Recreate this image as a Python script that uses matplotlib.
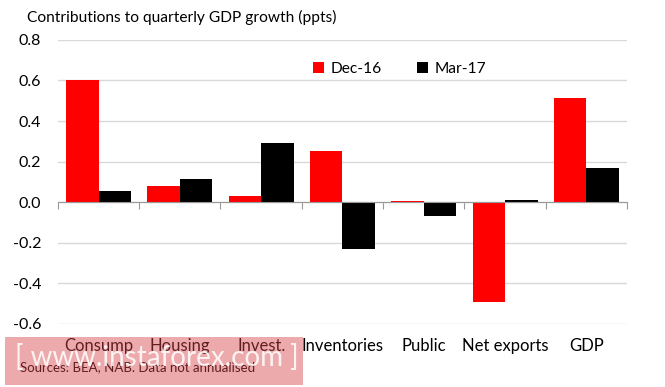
import numpy as np
import matplotlib
matplotlib.use("Agg")
import matplotlib.pyplot as plt
from matplotlib.patches import Rectangle

plt.rcParams['font.family'] = ['Lato', 'DejaVu Sans']

# data
categories = ['Consump', 'Housing', 'Invest.', 'Inventories', 'Public', 'Net exports', 'GDP']
dec16 = [0.60, 0.08, 0.03, 0.25, 0.005, -0.49, 0.515]
mar17 = [0.055, 0.115, 0.29, -0.23, -0.07, 0.01, 0.17]
series_names = ['Dec-16', 'Mar-17']
yticks = [-0.6, -0.4, -0.2, 0.0, 0.2, 0.4, 0.6, 0.8]

fig = plt.figure(figsize=(6.65, 3.87), dpi=100)
ax = fig.add_axes([0.087, 0.163, 0.856, 0.734])

x = np.arange(len(categories))
w = 0.4
ax.bar(x - w / 2, dec16, w, color='#ff0000', label=series_names[0], zorder=3)
ax.bar(x + w / 2, mar17, w, color='#000000', label=series_names[1], zorder=3)

ax.set_xlim(-0.5, len(categories) - 0.5)
ax.set_ylim(-0.6, 0.8)
ax.set_yticks(yticks)
ax.set_yticklabels([f'{v:.1f}' for v in yticks], fontsize=11.5)
ax.yaxis.grid(True, color='#d9d9d9', linewidth=1, zorder=0)
ax.tick_params(axis='y', length=0, pad=12)

for s in ['top', 'right', 'left']:
    ax.spines[s].set_visible(False)
ax.spines['bottom'].set_position(('data', 0))
ax.spines['bottom'].set_color('#999999')
ax.spines['bottom'].set_zorder(4)

# tick marks between categories, labels below the plot
ax.set_xticks(np.arange(len(categories) + 1) - 0.5)
ax.set_xticklabels([])
ax.tick_params(axis='x', length=5, color='#999999', direction='out')
for i, c in enumerate(categories):
    ax.text(i, -0.05, c, transform=ax.get_xaxis_transform(), ha='center', va='top',
            fontsize=12)

ax.legend(loc='upper center', bbox_to_anchor=(0.6, 0.97), ncol=2, frameon=False,
          fontsize=11.2, handlelength=0.7, handleheight=0.7, columnspacing=2.3,
          handletextpad=0.4)

fig.text(0.04, 0.955, 'Contributions to quarterly GDP growth (ppts)', fontsize=11.2,
         ha='left', va='center')
fig.text(0.03, 0.05, 'Sources: BEA, NAB. Data not annualised', fontsize=9.5,
         ha='left', va='center')

# watermark
fig.patches.append(Rectangle((0.008, 0.005), 0.447, 0.125, transform=fig.transFigure,
                             facecolor='#d9434a', alpha=0.45, edgecolor='none', zorder=5))
fig.text(0.022, 0.075, '[ www.instaforex.com ]', fontsize=20, color='white',
         ha='left', va='center', alpha=0.85, zorder=6)

fig.savefig('out.png', dpi=100)
